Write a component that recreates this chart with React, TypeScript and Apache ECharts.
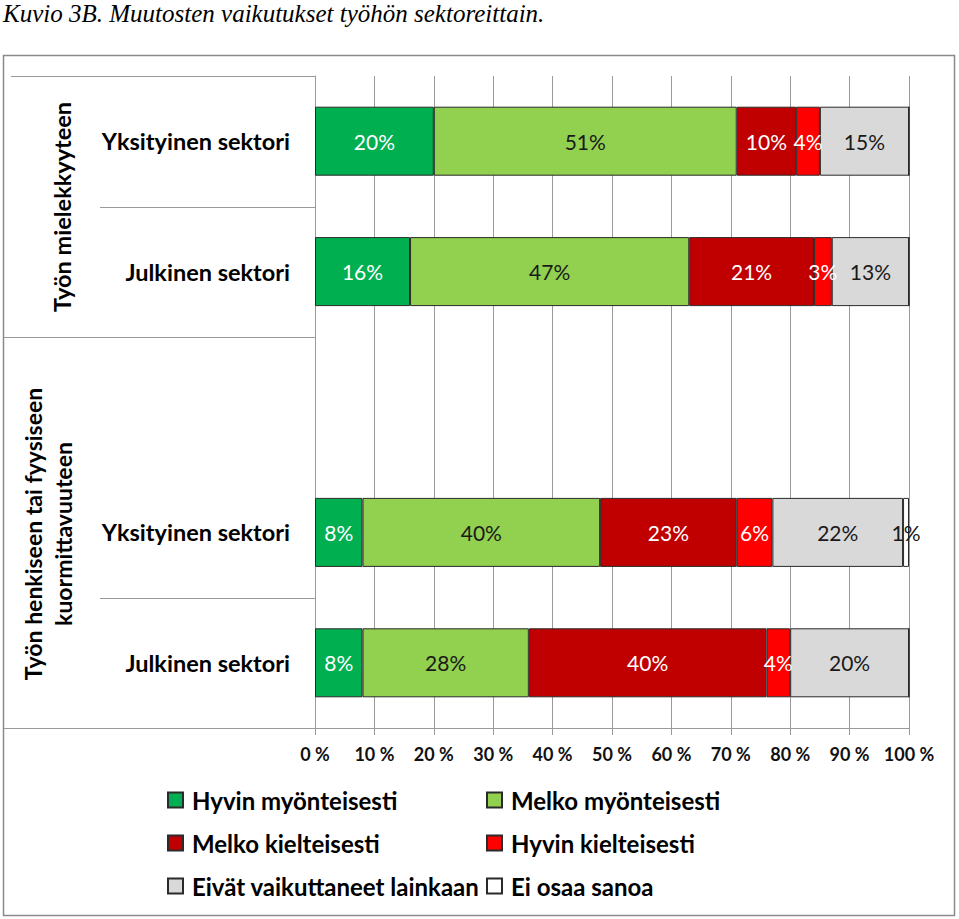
import React, { useEffect, useRef } from "react";
import * as echarts from "echarts";

const categoryIds = ["m-yks", "m-julk", "gap", "k-yks", "k-julk"];
const categoryLabels = ["Yksityinen sektori", "Julkinen sektori", "", "Yksityinen sektori", "Julkinen sektori"];
const groupLabels = ["Työn mielekkyyteen", "Työn henkiseen tai fyysiseen\nkuormittavuuteen"];

const seriesNames = [
  "Hyvin myönteisesti",
  "Melko myönteisesti",
  "Melko kielteisesti",
  "Hyvin kielteisesti",
  "Eivät vaikuttaneet lainkaan",
  "Ei osaa sanoa",
];
const hyvinMyonteisesti = [20, 16, null, 8, 8];
const melkoMyonteisesti = [51, 47, null, 40, 28];
const melkoKielteisesti = [10, 21, null, 23, 40];
const hyvinKielteisesti = [4, 3, null, 6, 4];
const eivatVaikuttaneet = [15, 13, null, 22, 20];
const eiOsaaSanoa = [0, 0, null, 1, 0];
const seriesValues = [hyvinMyonteisesti, melkoMyonteisesti, melkoKielteisesti, hyvinKielteisesti, eivatVaikuttaneet, eiOsaaSanoa];

const colors = ["#00B050", "#92D050", "#C00000", "#FF0000", "#D9D9D9", "#FFFFFF"];
const labelColors = ["#FFFFFF", "#1A1A1A", "#FFFFFF", "#FFFFFF", "#1A1A1A", "#1A1A1A"];
const xTicks = [0, 10, 20, 30, 40, 50, 60, 70, 80, 90, 100];

const FONT = "Lato, 'Open Sans', sans-serif";

export default function App() {
  const ref = useRef<HTMLDivElement>(null);
  useEffect(() => {
    if (!ref.current) return;
    const chart = echarts.init(ref.current, undefined, { renderer: "svg" });
    const gridColor = "#9A9A9A";
    const legendText = {
      fontFamily: FONT,
      fontWeight: "bold",
      fontSize: 24,
      color: "#000",
      lineHeight: 24,
      padding: [0, 0, 0, 4],
    };
    const option: any = {
      animation: false,
      backgroundColor: "#FFFFFF",
      textStyle: { fontFamily: FONT },
      grid: { left: 315, right: 50, top: 76, bottom: 191, containLabel: false },
      xAxis: {
        type: "value",
        min: xTicks[0],
        max: xTicks[xTicks.length - 1],
        interval: 10,
        axisLine: { show: true, lineStyle: { color: gridColor, width: 1 } },
        axisTick: { show: true, length: 7, lineStyle: { color: gridColor } },
        splitLine: { show: true, lineStyle: { color: gridColor, width: 1 } },
        axisLabel: {
          formatter: "{value} %",
          fontFamily: FONT,
          fontWeight: "bold",
          fontSize: 18,
          color: "#111",
          margin: 17,
        },
      },
      yAxis: {
        type: "category",
        inverse: true,
        data: categoryIds,
        axisLine: { show: true, lineStyle: { color: gridColor, width: 1 } },
        axisTick: { show: false },
        splitLine: { show: false },
        axisLabel: {
          formatter: (v: string) => categoryLabels[categoryIds.indexOf(v)] || "",
          fontFamily: FONT,
          fontWeight: "bold",
          fontSize: 23.5,
          color: "#000",
          margin: 25,
        },
      },
      legend: [
        {
          left: 162,
          top: 783,
          orient: "vertical",
          data: [seriesNames[0], seriesNames[2], seriesNames[4]],
          icon: "rect",
          itemWidth: 15,
          itemHeight: 15,
          itemGap: 19,
          textStyle: legendText,
          selectedMode: false,
        },
        {
          left: 481,
          top: 783,
          orient: "vertical",
          data: [seriesNames[1], seriesNames[3], seriesNames[5]],
          icon: "rect",
          itemWidth: 15,
          itemHeight: 15,
          itemGap: 19,
          textStyle: legendText,
          selectedMode: false,
        },
      ],
      series: seriesNames.map((name, i) => ({
        name,
        type: "bar",
        stack: "total",
        barWidth: 69,
        data: seriesValues[i],
        itemStyle: { color: colors[i], borderColor: "#2A2A2A", borderWidth: 1 },
        label: {
          show: true,
          position: "inside",
          fontFamily: FONT,
          fontSize: 21,
          color: labelColors[i],
          formatter: (p: any) => (p.value ? `${p.value}%` : ""),
        },
      })),
      graphic: [
        {
          type: "rect",
          shape: { x: 3.5, y: 55.5, width: 951, height: 860 },
          style: { fill: "none", stroke: "#8A8A8A", lineWidth: 1.5 },
          silent: true,
        },
        {
          type: "text",
          x: 3,
          y: 1,
          style: {
            text: "Kuvio 3B. Muutosten vaikutukset työhön sektoreittain.",
            fontFamily: "'Liberation Serif', 'Times New Roman', serif",
            fontStyle: "italic",
            fontSize: 25,
            fill: "#000",
            textVerticalAlign: "top",
          },
        },
        { type: "line", shape: { x1: 11, y1: 76.5, x2: 315, y2: 76.5 }, style: { stroke: gridColor, lineWidth: 1 } },
        { type: "line", shape: { x1: 100, y1: 207.5, x2: 315, y2: 207.5 }, style: { stroke: gridColor, lineWidth: 1 } },
        { type: "line", shape: { x1: 4, y1: 337.5, x2: 315, y2: 337.5 }, style: { stroke: gridColor, lineWidth: 1 } },
        { type: "line", shape: { x1: 100, y1: 598.5, x2: 315, y2: 598.5 }, style: { stroke: gridColor, lineWidth: 1 } },
        { type: "line", shape: { x1: 4, y1: 728.5, x2: 315, y2: 728.5 }, style: { stroke: gridColor, lineWidth: 1 } },
        {
          type: "text",
          x: 62,
          y: 207,
          rotation: Math.PI / 2,
          style: {
            text: groupLabels[0],
            fontFamily: FONT,
            fontWeight: "bold",
            fontSize: 23.5,
            fill: "#000",
            textAlign: "center",
            textVerticalAlign: "middle",
          },
        },
        {
          type: "text",
          x: 48,
          y: 534,
          rotation: Math.PI / 2,
          style: {
            text: groupLabels[1],
            fontFamily: FONT,
            fontWeight: "bold",
            fontSize: 23,
            lineHeight: 30,
            fill: "#000",
            align: "center",
            textAlign: "center",
            textVerticalAlign: "middle",
          },
        },
      ],
    };
    chart.setOption(option);
    return () => chart.dispose();
  }, []);
  return <div ref={ref} style={{ width: 959, height: 919, position: "absolute", left: 0, top: 0 }} />;
}
